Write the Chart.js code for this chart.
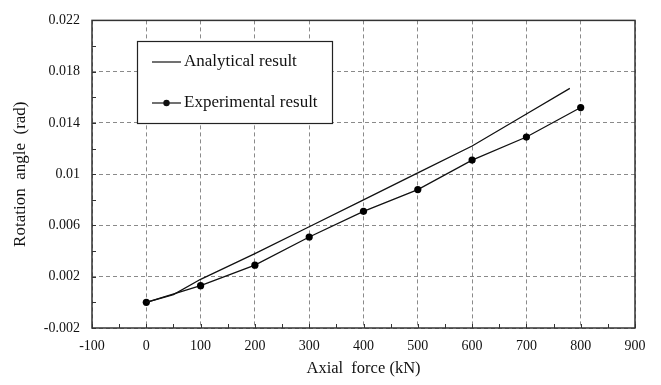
<!DOCTYPE html>
<html lang="en">
<head>
    <meta charset="UTF-8">
    <title>Rotation angle vs axial force</title>
    <script src="https://cdn.jsdelivr.net/npm/chart.js"></script>
    <style>
        html, body { margin: 0; padding: 0; background: #fff; }
        #box { width: 661px; height: 385px; }
    </style>
</head>
<body>
    <div id="box"><canvas id="rotChart"></canvas></div>

    <script>
        // curve values
        const analyticalForce = [0, 50, 100, 200, 300, 400, 500, 600, 700, 780];
        const analyticalAngle = [0, 0.0006, 0.0018, 0.0038, 0.0059, 0.0080, 0.0101, 0.0122, 0.0147, 0.0167];

        const experimentalForce = [0, 100, 200, 300, 400, 500, 600, 700, 800];
        const experimentalAngle = [0, 0.0013, 0.0029, 0.0051, 0.0071, 0.0088, 0.0111, 0.0129, 0.0152];

        const yTickValues = [-0.002, 0.002, 0.006, 0.010, 0.014, 0.018, 0.022];
        const yTickLabels = ['-0.002', '0.002', '0.006', '0.01', '0.014', '0.018', '0.022'];
        const yMinorTicks = [0, 0.004, 0.008, 0.012, 0.016, 0.020];
        const xMinorTicks = [-50, 50, 150, 250, 350, 450, 550, 650, 750, 850];

        const serif = "'Liberation Serif', 'Times New Roman', serif";

        function toPoints(xs, ys) {
            return xs.map((x, i) => ({ x: x, y: ys[i] }));
        }

        // box round the plot, small inward ticks, legend in the upper left
        const framePlugin = {
            id: 'frame',
            afterDatasetsDraw(chart) {
                const ctx = chart.ctx;
                const a = chart.chartArea;
                const xs = chart.scales.x, ys = chart.scales.y;
                ctx.save();
                ctx.strokeStyle = '#333';
                ctx.lineWidth = 1;
                const allX = xMinorTicks.concat(xs.ticks.map(t => t.value));
                allX.forEach(v => {
                    const px = Math.round(xs.getPixelForValue(v)) + 0.5;
                    ctx.beginPath(); ctx.moveTo(px, a.bottom); ctx.lineTo(px, a.bottom - 4); ctx.stroke();
                });
                const allY = yMinorTicks.concat(yTickValues);
                allY.forEach(v => {
                    const py = Math.round(ys.getPixelForValue(v)) + 0.5;
                    ctx.beginPath(); ctx.moveTo(a.left, py); ctx.lineTo(a.left + 4, py); ctx.stroke();
                });
                ctx.lineWidth = 1.5;
                ctx.strokeRect(a.left, a.top, a.right - a.left, a.bottom - a.top);

                // legend
                const lx = 137, ly = 41, lw = 195, lh = 82;
                ctx.fillStyle = '#fff';
                ctx.fillRect(lx, ly, lw, lh);
                ctx.lineWidth = 1.2;
                ctx.strokeStyle = '#222';
                ctx.strokeRect(lx + 0.5, ly + 0.5, lw, lh);
                ctx.font = '17px ' + serif;
                ctx.textBaseline = 'middle';
                ctx.fillStyle = '#111';
                const rows = [62, 103];
                chart.data.datasets.forEach((ds, i) => {
                    const y = rows[i];
                    ctx.strokeStyle = '#111';
                    ctx.lineWidth = 1.2;
                    ctx.beginPath(); ctx.moveTo(152, y); ctx.lineTo(181, y); ctx.stroke();
                    if (ds.pointRadius > 0) {
                        ctx.beginPath(); ctx.arc(166.5, y, 3.2, 0, Math.PI * 2); ctx.fill();
                    }
                    ctx.fillText(ds.label, 184, y);
                });
                ctx.restore();
            }
        };

        const ctxRot = document.getElementById('rotChart').getContext('2d');
        const rotChart = new Chart(ctxRot, {
            type: 'scatter',
            data: {
                datasets: [{
                    label: 'Analytical result',
                    data: toPoints(analyticalForce, analyticalAngle),
                    showLine: true,
                    borderColor: '#111',
                    borderWidth: 1.3,
                    pointRadius: 0,
                    tension: 0
                }, {
                    label: 'Experimental result',
                    data: toPoints(experimentalForce, experimentalAngle),
                    showLine: true,
                    borderColor: '#111',
                    backgroundColor: '#000',
                    borderWidth: 1.3,
                    pointRadius: 3.6,
                    pointBorderWidth: 0,
                    tension: 0
                }]
            },
            options: {
                responsive: true,
                maintainAspectRatio: false,
                animation: false,
                layout: { padding: { top: 10, right: 26, left: 0, bottom: 0 } },
                plugins: {
                    legend: { display: false },
                    tooltip: { enabled: false }
                },
                scales: {
                    x: {
                        type: 'linear',
                        min: -100,
                        max: 900,
                        afterFit: s => { s.height = 57; },
                        ticks: {
                            stepSize: 100,
                            padding: 10,
                            color: '#111',
                            font: { family: serif, size: 14 }
                        },
                        grid: { color: '#8a8a8a', lineWidth: 1, drawTicks: false },
                        border: { display: false, dash: [4, 3] },
                        title: {
                            display: true,
                            text: 'Axial  force (kN)',
                            color: '#111',
                            font: { family: serif, size: 16.5 },
                            padding: { top: 0, bottom: 6 }
                        }
                    },
                    y: {
                        type: 'linear',
                        min: -0.002,
                        max: 0.022,
                        afterFit: s => { s.width = 92; },
                        afterBuildTicks: s => { s.ticks = yTickValues.map(v => ({ value: v })); },
                        ticks: {
                            padding: 12,
                            color: '#111',
                            font: { family: serif, size: 14 },
                            callback: (v) => {
                                const i = yTickValues.findIndex(t => Math.abs(t - v) < 1e-9);
                                return i >= 0 ? yTickLabels[i] : '';
                            }
                        },
                        grid: { color: '#8a8a8a', lineWidth: 1, drawTicks: false },
                        border: { display: false, dash: [4, 3] },
                        title: {
                            display: true,
                            text: 'Rotation  angle  (rad)',
                            color: '#111',
                            font: { family: serif, size: 17 },
                            padding: { top: 10, bottom: 0 }
                        }
                    }
                }
            },
            plugins: [framePlugin]
        });
    </script>
</body>
</html>
